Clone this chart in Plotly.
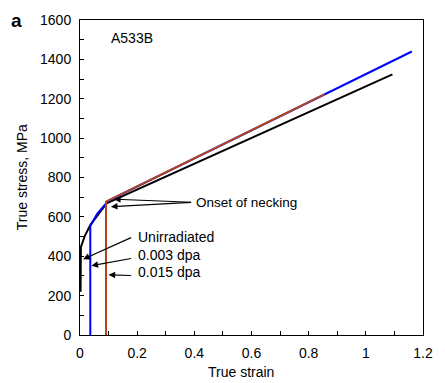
import plotly.graph_objects as go

# True stress-strain curves for A533B steel
unirr_strain = [0.002, 0.003, 0.017, 0.037, 0.093, 1.093]
unirr_stress = [220, 446, 504, 561, 669, 1324]

dpa003_strain = [0.036, 0.036, 0.06, 0.091, 0.1, 1.161]
dpa003_stress = [0, 553, 615, 668, 683, 1440]

dpa015_strain = [0.091, 0.091, 0.856]
dpa015_stress = [0, 677, 1222]

x_ticks = [0, 0.2, 0.4, 0.6, 0.8, 1, 1.2]
x_tick_text = ["0", "0.2", "0.4", "0.6", "0.8", "1", "1.2"]
y_ticks = [0, 200, 400, 600, 800, 1000, 1200, 1400, 1600]

FONT = "Liberation Sans, Arial, Helvetica, sans-serif"

fig = go.Figure()
fig.add_trace(go.Scatter(x=unirr_strain, y=unirr_stress, mode="lines",
                         line=dict(color="#000000", width=2), name="Unirradiated"))
fig.add_trace(go.Scatter(x=dpa003_strain, y=dpa003_stress, mode="lines",
                         line=dict(color="#0000ff", width=2), name="0.003 dpa"))
fig.add_trace(go.Scatter(x=dpa015_strain, y=dpa015_stress, mode="lines",
                         line=dict(color="#b0471b", width=2), name="0.015 dpa"))

ann = []


def label(x, y, text, size=14):
    ann.append(dict(x=x, y=y, xref="x", yref="y", text=text, showarrow=False,
                    xanchor="left", yanchor="middle",
                    font=dict(family=FONT, size=size, color="black")))


# arrow from tail (tx, ty) to head (hx, hy), in data units
def arrow(hx, hy, tx, ty):
    ann.append(dict(x=hx, y=hy, ax=tx, ay=ty, xref="x", yref="y",
                    axref="x", ayref="y", text="", showarrow=True,
                    arrowhead=2, arrowsize=1.1, arrowwidth=1.2, arrowcolor="black"))


label(0.1, 1510, "A533B")
label(0.4, 672, "Onset of necking", 13.5)
arrow(0.119, 690, 0.394, 674)
arrow(0.108, 652, 0.394, 674)
label(0.196, 500, "Unirradiated")
arrow(0.011, 385, 0.184, 498)
label(0.196, 408, "0.003 dpa")
arrow(0.040, 352, 0.184, 390)
label(0.196, 318, "0.015 dpa")
arrow(0.100, 306, 0.184, 302)

# panel letter and axis titles
ann.append(dict(xref="paper", yref="paper", x=-0.186, y=0.997,
                xanchor="center", yanchor="middle", text="<b>a</b>", showarrow=False,
                font=dict(family=FONT, size=19, color="black")))
ann.append(dict(xref="paper", yref="paper", x=0.469, y=-0.118,
                xanchor="center", yanchor="middle",
                text="True strain", showarrow=False,
                font=dict(family=FONT, size=14, color="black")))
ann.append(dict(xref="paper", yref="paper", x=-0.170, y=0.5,
                xanchor="center", yanchor="middle",
                text="True stress, MPa", showarrow=False, textangle=-90,
                font=dict(family=FONT, size=14, color="black")))

fig.update_layout(
    width=445, height=383,
    margin=dict(l=80, r=12, t=12, b=48),
    plot_bgcolor="white", paper_bgcolor="white",
    showlegend=False,
    annotations=ann,
    font=dict(family=FONT, size=14, color="black"),
)
fig.update_xaxes(range=[0, 1.2], tickvals=x_ticks, ticktext=x_tick_text,
                 ticks="inside", ticklen=4, tickcolor="black", tickwidth=1,
                 minor=dict(dtick=0.1, ticks="inside", ticklen=4, tickcolor="black"),
                 showline=True, linecolor="black", linewidth=1, mirror=True,
                 showgrid=False, zeroline=False, ticklabelstandoff=5,
                 tickfont=dict(family=FONT, size=14))
fig.update_yaxes(range=[0, 1600], tickvals=y_ticks,
                 ticks="inside", ticklen=4, tickcolor="black", tickwidth=1,
                 minor=dict(dtick=100, ticks="inside", ticklen=4, tickcolor="black"),
                 showline=True, linecolor="black", linewidth=1, mirror=True,
                 showgrid=False, zeroline=False, ticklabelstandoff=5,
                 tickfont=dict(family=FONT, size=14))

fig.write_html("out.html")
